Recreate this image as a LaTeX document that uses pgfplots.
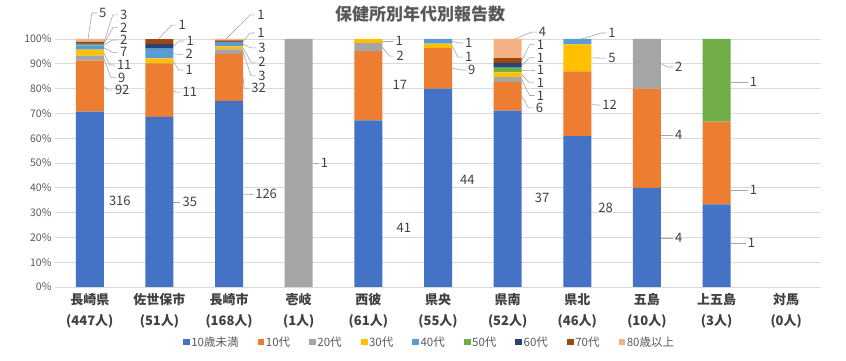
\documentclass[border=0pt]{standalone}
\usepackage{fontspec}
\setmainfont{Noto Sans CJK JP}
\usepackage{pgfplots}
\pgfplotsset{compat=1.18}
\usepackage{pgfplotstable}
\usetikzlibrary{calc}

\definecolor{c0}{HTML}{4472C4}
\definecolor{c1}{HTML}{ED7D31}
\definecolor{c2}{HTML}{A5A5A5}
\definecolor{c3}{HTML}{FFC000}
\definecolor{c4}{HTML}{5B9BD5}
\definecolor{c5}{HTML}{70AD47}
\definecolor{c6}{HTML}{264478}
\definecolor{c7}{HTML}{9E480E}
\definecolor{c8}{HTML}{F4B183}
\definecolor{gridc}{HTML}{D9D9D9}
\definecolor{txt}{HTML}{595959}
\definecolor{lblc}{HTML}{404040}
\definecolor{ldrc}{HTML}{A6A6A6}

% reports per health centre and age group (a0 = under 10, ..., a8 = 80 and over), t = total
\pgfplotstableread{
idx a0  a1 a2 a3 a4 a5 a6 a7 a8 t
0   316 92 9  11 7  2  2  3  5  447
1   35  11 0  1  2  0  1  1  0  51
2   126 32 3  2  3  0  0  1  1  168
3   0   0  1  0  0  0  0  0  0  1
4   41  17 2  1  0  0  0  0  0  61
5   44  9  0  1  1  0  0  0  0  55
6   37  6  1  1  0  1  1  1  4  52
7   28  12 0  5  1  0  0  0  0  46
8   4   4  2  0  0  0  0  0  0  10
9   1   1  0  0  0  1  0  0  0  3
10  0   0  0  0  0  0  0  0  0  0
}\counts

\pgfplotsset{
  sq/.style={legend image code/.code={\fill[##1] (0pt,-3.4pt) rectangle (6.8pt,3.4pt);}},
}
\tikzset{
  vlab/.style={anchor=west, inner sep=0pt, text height=9.2pt, text depth=0pt,
    text=lblc, font=\fontsize{13}{15}\selectfont},
  ldr/.style={draw=ldrc, line width=0.6pt},
}
% label beside a bar, no leader line: category, x offset (pt), y (%), text
\newcommand\vl[4]{\node[vlab] at ($(axis cs:#1,#3)+(#2pt,0pt)$) {#4};}
% label with leader line: category, start x offset, segment y, label x offset, label y, text
\newcommand\ld[6]{%
  \draw[ldr] ($(axis cs:#1,#3)+(#2pt,0pt)$) -- ($(axis cs:#1,#5)+({#4pt-7pt},0pt)$) -- ($(axis cs:#1,#5)+({#4pt-2pt},0pt)$);
  \node[vlab] at ($(axis cs:#1,#5)+(#4pt,0pt)$) {#6};}
% share of one age group in a centre's total, in percent
\newcommand\share[1]{100*\thisrow{#1}/max(\thisrow{t},1)}

\begin{document}
\begin{tikzpicture}
\begin{axis}[
  at={(55pt,74pt)}, anchor=south west,
  scale only axis, width=766pt, height=248pt,
  xmin=-0.5, xmax=10.5, ymin=0, ymax=100,
  ybar stacked, bar width=28pt,
  clip=false,
  axis line style={draw=none},
  tick style={draw=none},
  ymajorgrids, grid style={gridc, line width=0.8pt},
  ytick={0,10,...,100},
  yticklabel={\pgfmathprintnumber{\tick}\%},
  /pgf/number format/assume math mode=true,
  yticklabel style={text=txt, font=\fontsize{10.5}{12}\selectfont},
  xtick={0,...,10},
  xticklabels={{長崎県\\(447人)},{佐世保市\\(51人)},{長崎市\\(168人)},{壱岐\\(1人)},{西彼\\(61人)},{県央\\(55人)},{県南\\(52人)},{県北\\(46人)},{五島\\(10人)},{上五島\\(3人)},{対馬\\(0人)}},
  xticklabel style={align=center, text=lblc, yshift=-3pt, font=\bfseries\fontsize{13}{21}\selectfont},
  title={保健所別年代別報告数},
  title style={at={(0.4765,1.075)}, anchor=center, text=txt, font=\bfseries\fontsize{17}{20}\selectfont},
  legend columns=9,
  legend style={at={(0.488,-0.222)}, anchor=center, draw=none, fill=none,
    font=\fontsize{11.5}{13}\selectfont, text=txt,
    nodes={inner sep=0.5pt},
    /tikz/every odd column/.append style={column sep=1pt},
    /tikz/every even column/.append style={column sep=18.5pt}},
]
\addplot[sq, fill=c0, draw=none] table[x=idx, y expr={\share{a0}}] {\counts};
\addplot[sq, fill=c1, draw=none] table[x=idx, y expr={\share{a1}}] {\counts};
\addplot[sq, fill=c2, draw=none] table[x=idx, y expr={\share{a2}}] {\counts};
\addplot[sq, fill=c3, draw=none] table[x=idx, y expr={\share{a3}}] {\counts};
\addplot[sq, fill=c4, draw=none] table[x=idx, y expr={\share{a4}}] {\counts};
\addplot[sq, fill=c5, draw=none] table[x=idx, y expr={\share{a5}}] {\counts};
\addplot[sq, fill=c6, draw=none] table[x=idx, y expr={\share{a6}}] {\counts};
\addplot[sq, fill=c7, draw=none] table[x=idx, y expr={\share{a7}}] {\counts};
\addplot[sq, fill=c8, draw=none] table[x=idx, y expr={\share{a8}}] {\counts};
\legend{10歳未満,10代,20代,30代,40代,50代,60代,70代,80歳以上}

% 長崎県
\vl{0}{19}{34.7}{316}
\ld{0}{14}{81.0}{25}{79.4}{92}
\ld{0}{14}{92.3}{28}{84.5}{9}
\ld{0}{14}{94.5}{27}{89.5}{11}
\ld{0}{14}{96.5}{30}{94.6}{7}
\ld{0}{14}{97.5}{30}{99.6}{2}
\ld{0}{14}{98.0}{30}{104.6}{2}
\ld{0}{14}{98.5}{30}{109.7}{3}
\ld{0}{-2}{99.4}{9}{110.5}{5}
% 佐世保市
\ld{1}{14}{34.3}{23}{34.3}{35}
\ld{1}{14}{79.4}{23}{78.6}{11}
\ld{1}{14}{91.2}{26}{87.5}{1}
\ld{1}{14}{94.1}{26}{93.8}{2}
\ld{1}{14}{97.1}{27}{99.2}{1}
\ld{1}{-2}{99.5}{19}{105.6}{1}
% 長崎市
\ld{2}{14}{37.5}{26}{37.5}{126}
\ld{2}{14}{84.5}{22}{80.2}{32}
\ld{2}{14}{94.9}{29}{85.1}{3}
\ld{2}{14}{96.4}{29}{90.7}{2}
\ld{2}{14}{97.9}{29}{96.4}{3}
\ld{2}{14}{99.1}{28}{102.4}{1}
\ld{2}{-4}{99.7}{28}{109.7}{1}
% 壱岐
\ld{3}{14}{50.0}{22}{50.0}{1}
% 西彼
\vl{4}{28}{23.8}{41}
\vl{4}{24}{81.5}{17}
\ld{4}{14}{96.7}{28}{93.1}{2}
\ld{4}{14}{99.2}{27}{99.2}{1}
% 県央
\vl{5}{22}{43.1}{44}
\ld{5}{14}{88.2}{30}{87.5}{9}
\ld{5}{14}{97.3}{27}{92.7}{1}
\ld{5}{14}{99.1}{27}{98.4}{1}
% 県南
\vl{6}{27}{35.9}{37}
\ld{6}{14}{76.9}{28}{72.2}{6}
\ld{6}{14}{83.7}{29}{77.2}{1}
\ld{6}{14}{85.6}{29}{82.3}{1}
\ld{6}{14}{87.5}{29}{87.5}{1}
\ld{6}{14}{89.4}{29}{92.5}{1}
\ld{6}{14}{91.3}{29}{97.7}{1}
\ld{6}{4}{99.5}{31}{102.8}{4}
% 県北
\vl{7}{21}{31.9}{28}
\ld{7}{14}{73.9}{25}{73.4}{12}
\ld{7}{14}{92.4}{31}{92.3}{5}
\ld{7}{0}{99.5}{31}{102.4}{1}
% 五島
\ld{8}{14}{19.8}{28}{19.8}{4}
\ld{8}{14}{61.3}{28}{61.3}{4}
\ld{8}{14}{90.0}{28}{88.7}{2}
% 上五島
\ld{9}{14}{17.7}{31}{17.7}{1}
\ld{9}{14}{39.1}{33}{39.1}{1}
\ld{9}{14}{82.7}{33}{82.7}{1}
\end{axis}
\pgfresetboundingbox
\path[use as bounding box] (0,0) rectangle (846pt,361pt);
\end{tikzpicture}
\end{document}
